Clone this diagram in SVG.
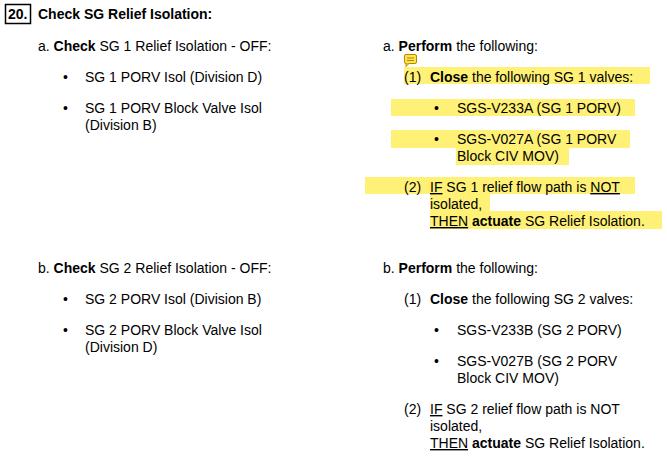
<svg xmlns="http://www.w3.org/2000/svg" width="667" height="460" viewBox="0 0 667 460">
<style>
text{font-family:"Liberation Sans",Arial,sans-serif;font-size:14px;fill:#000}
.b{font-weight:bold}
.hl{fill:#fff176}
</style>
<rect width="667" height="460" fill="#fff"/>
<g id="highlights">
<rect class="hl" x="404" y="67" width="246" height="17"/>
<rect class="hl" x="391" y="99" width="244" height="17"/>
<rect class="hl" x="391" y="130" width="239" height="18"/>
<rect class="hl" x="456" y="148" width="113" height="17"/>
<rect class="hl" x="365" y="177" width="270" height="17"/>
<rect class="hl" x="430" y="194" width="60" height="17"/>
<rect class="hl" x="430" y="211" width="232" height="18"/>
</g>
<g id="note">
<rect x="404.5" y="54.5" width="12" height="9" rx="1.5" fill="#ffe24d" stroke="#b08a00"/>
<path d="M407 58h7M407 60.5h7" stroke="#b08a00"/>
<path d="M406 63.5l0 3 3-3" fill="#ffe24d" stroke="#b08a00"/>
</g>
<g id="title">
<rect x="5.5" y="4.5" width="25" height="19" fill="none" stroke="#000" stroke-width="1.5"/>
<text x="8" y="19" class="b">20.</text>
<text x="38" y="19" class="b">Check SG Relief Isolation:</text>
</g>
<g id="left">
<text x="38" y="51">a.  <tspan class="b">Check</tspan> SG 1 Relief Isolation - OFF:</text>
<text x="63" y="82">•</text><text x="85" y="82">SG 1 PORV Isol (Division D)</text>
<text x="63" y="113">•</text><text x="85" y="113">SG 1 PORV Block Valve Isol</text>
<text x="85" y="130">(Division B)</text>
<text x="38" y="273">b.  <tspan class="b">Check</tspan> SG 2 Relief Isolation - OFF:</text>
<text x="63" y="304">•</text><text x="85" y="304">SG 2 PORV Isol (Division B)</text>
<text x="63" y="335">•</text><text x="85" y="335">SG 2 PORV Block Valve Isol</text>
<text x="85" y="352">(Division D)</text>
</g>
<g id="right">
<text x="383" y="51">a.  <tspan class="b">Perform</tspan> the following:</text>
<text x="404" y="82">(1)</text><text x="430" y="82"><tspan class="b">Close</tspan> the following SG 1 valves:</text>
<text x="434" y="113">•</text><text x="457" y="113">SGS-V233A (SG 1 PORV)</text>
<text x="434" y="144">•</text><text x="457" y="144">SGS-V027A (SG 1 PORV</text>
<text x="457" y="161">Block CIV MOV)</text>
<text x="404" y="192">(2)</text><text x="430" y="192"><tspan text-decoration="underline">IF</tspan> SG 1 relief flow path is <tspan text-decoration="underline">NOT</tspan></text>
<text x="430" y="209">isolated,</text>
<text x="430" y="226"><tspan text-decoration="underline">THEN</tspan> <tspan class="b">actuate</tspan> SG Relief Isolation.</text>
<text x="383" y="273">b.  <tspan class="b">Perform</tspan> the following:</text>
<text x="404" y="304">(1)</text><text x="430" y="304"><tspan class="b">Close</tspan> the following SG 2 valves:</text>
<text x="434" y="335">•</text><text x="457" y="335">SGS-V233B (SG 2 PORV)</text>
<text x="434" y="366">•</text><text x="457" y="366">SGS-V027B (SG 2 PORV</text>
<text x="457" y="383">Block CIV MOV)</text>
<text x="404" y="414">(2)</text><text x="430" y="414"><tspan text-decoration="underline">IF</tspan> SG 2 relief flow path is NOT</text>
<text x="430" y="431">isolated,</text>
<text x="430" y="448"><tspan text-decoration="underline">THEN</tspan> <tspan class="b">actuate</tspan> SG Relief Isolation.</text>
</g>
</svg>
